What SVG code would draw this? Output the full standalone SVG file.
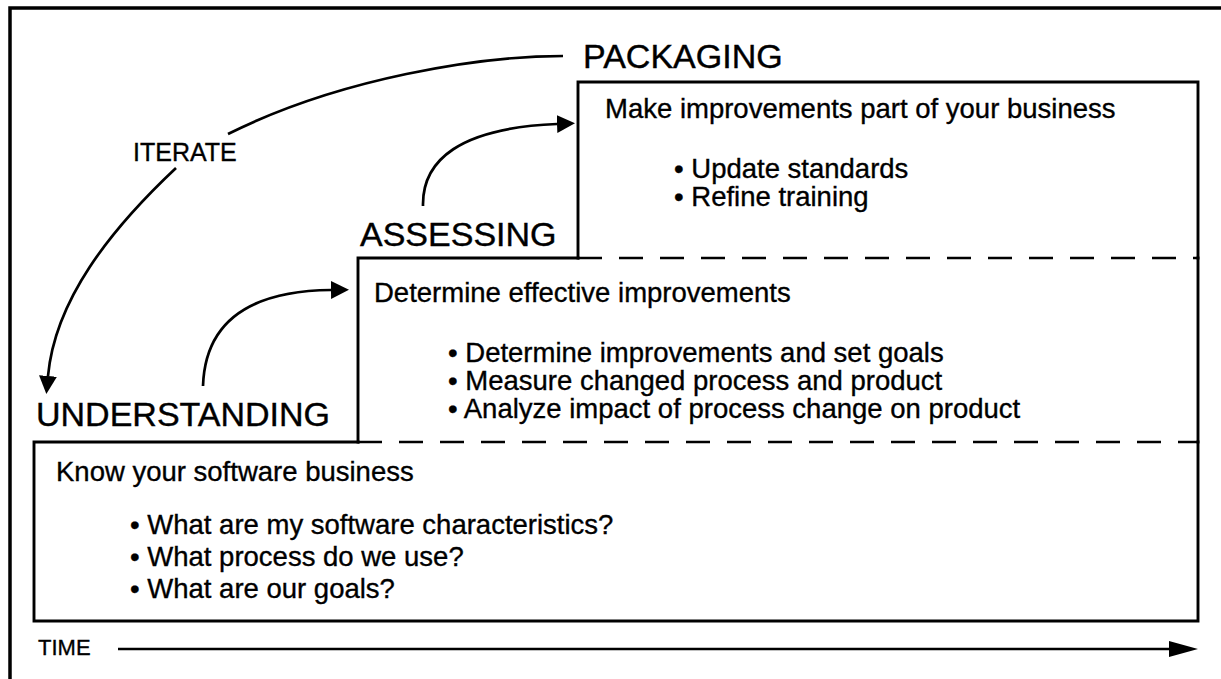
<svg xmlns="http://www.w3.org/2000/svg" width="1221" height="679" viewBox="0 0 1221 679">
  <style>
    .solid { fill: none; stroke: #000; stroke-width: 2.9; stroke-linecap: square; }
    .dash { fill: none; stroke: #000; stroke-width: 2.7; stroke-dasharray: 24 17; }
    .frame { fill: none; stroke: #000; stroke-width: 3.5; }
    .big { font-family: "Liberation Sans", Arial, Helvetica, sans-serif; font-size: 34px; fill: #000; stroke: #000; stroke-width: 0.4; }
    .body { font-family: "Liberation Sans", Arial, Helvetica, sans-serif; font-size: 27.5px; fill: #000; stroke: #000; stroke-width: 0.35; }
    .small { font-family: "Liberation Sans", Arial, Helvetica, sans-serif; font-size: 25px; fill: #000; stroke: #000; stroke-width: 0.35; }
    .conn { fill: none; stroke: #000; stroke-width: 2.7; }
  </style>
  <defs>
    <marker id="head" viewBox="0 0 10 10" refX="0" refY="5" markerUnits="userSpaceOnUse" markerWidth="18" markerHeight="18" orient="auto">
      <path d="M0,0 L10,5 L0,10 z" fill="#000"/>
    </marker>
    <marker id="timehead" viewBox="0 0 10 10" preserveAspectRatio="none" refX="0" refY="5" markerUnits="userSpaceOnUse" markerWidth="29" markerHeight="16" orient="auto">
      <path d="M0,0 L10,5 L0,10 z" fill="#000"/>
    </marker>
  </defs>
  <rect x="0" y="0" width="1221" height="679" fill="#fff"/>

  <g id="frame">
    <path class="frame" d="M10,679 V8 H1221"/>
  </g>

  <g id="packaging">
    <path class="solid" d="M578,258 V82 H1198 V258"/>
    <path class="dash" d="M578,258 H1198"/>
    <text class="big" x="583" y="68">PACKAGING</text>
    <text class="body" x="605" y="118">Make improvements part of your business</text>
    <text class="body" x="674" y="178">• Update standards</text>
    <text class="body" x="674" y="206">• Refine training</text>
  </g>

  <g id="assessing">
    <path class="solid" d="M358,442 V258 H578"/>
    <path class="solid" d="M1198,258 V442"/>
    <path class="dash" d="M358,442 H1198"/>
    <text class="big" x="360" y="246">ASSESSING</text>
    <text class="body" x="374" y="302">Determine effective improvements</text>
    <text class="body" x="448" y="362">• Determine improvements and set goals</text>
    <text class="body" x="448" y="390">• Measure changed process and product</text>
    <text class="body" x="448" y="418">• Analyze impact of process change on product</text>
  </g>

  <g id="understanding">
    <path class="solid" d="M358,442 H34 V621 H1198 V442"/>
    <text class="big" x="36" y="426">UNDERSTANDING</text>
    <text class="body" x="56" y="481">Know your software business</text>
    <text class="body" x="130" y="534">• What are my software characteristics?</text>
    <text class="body" x="130" y="566">• What process do we use?</text>
    <text class="body" x="130" y="598">• What are our goals?</text>
  </g>

  <g id="time-axis">
    <text class="small" x="38" y="655" style="font-size:22px">TIME</text>
    <path class="conn" d="M118,649 H1169" marker-end="url(#timehead)"/>
  </g>

  <g id="connectors">
    <path class="conn" d="M563,56 C480,56 340,78 228,134"/>
    <text class="small" x="133" y="161">ITERATE</text>
    <path class="conn" d="M176,168 C110,230 55,300 48,376" marker-end="url(#head)"/>
    <path class="conn" d="M203,386 C205,325 245,291 331,290" marker-end="url(#head)"/>
    <path class="conn" d="M423,206 C422,160 460,128 557,124" marker-end="url(#head)"/>
  </g>
</svg>
